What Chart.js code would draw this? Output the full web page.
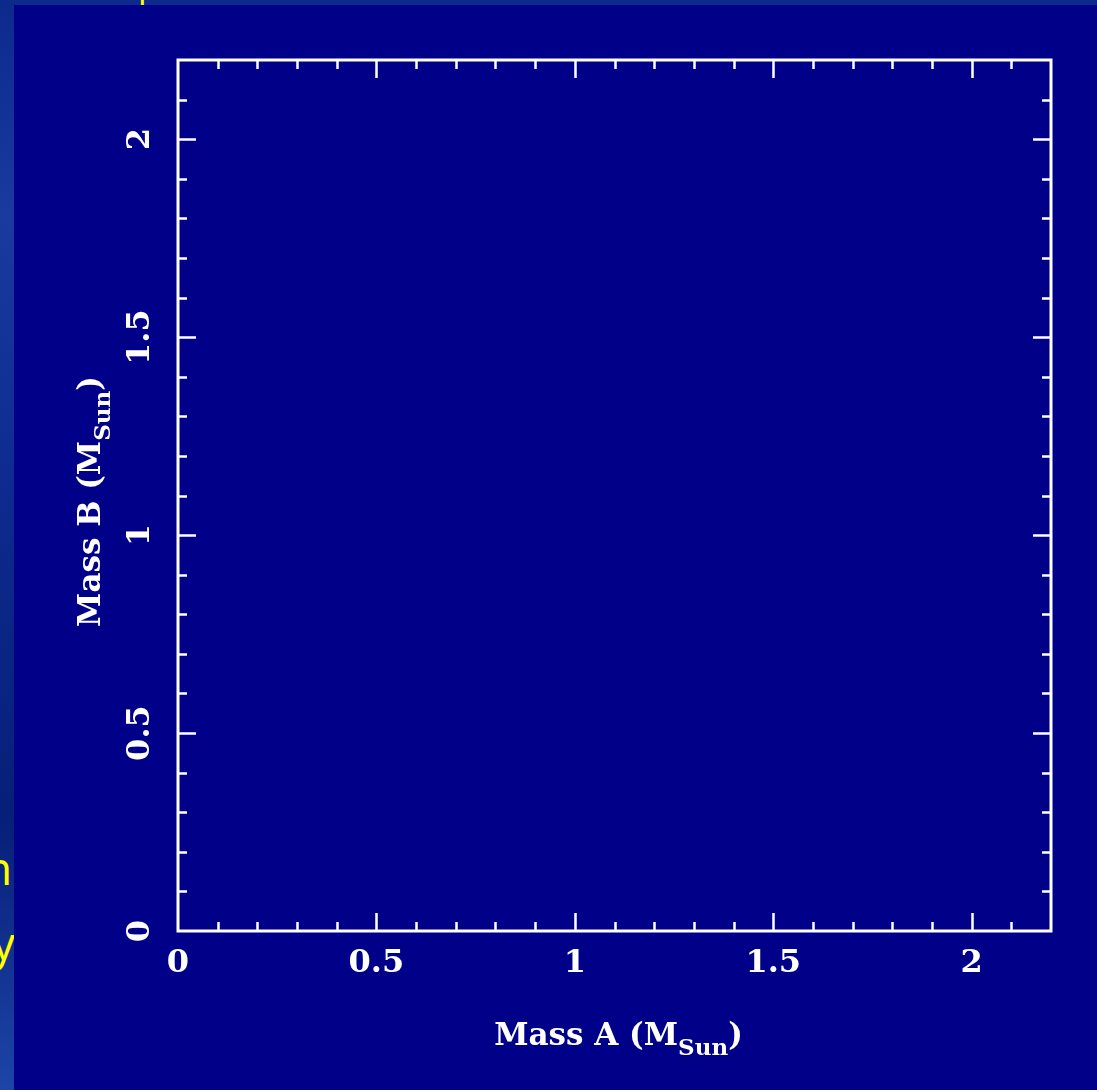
<!DOCTYPE html>
<html>
<head>
<meta charset="utf-8">
<script src="https://cdn.jsdelivr.net/npm/chart.js@4"></script>
<style>
  html, body { margin: 0; padding: 0; }
  body {
    width: 1097px; height: 1090px; overflow: hidden; position: relative;
    background: linear-gradient(180deg, #0c2a8c 0%, #1a3aa0 20%, #0d2b8e 45%, #061f78 75%, #1c45a6 100%);
  }
  .slide-text {
    position: absolute; color: #ffff00; font-family: 'Open Sans', 'Liberation Sans', sans-serif;
    font-size: 46px; line-height: 1; white-space: nowrap;
  }
  #panel {
    position: absolute; left: 14px; top: 5px; width: 1083px; height: 1085px;
    background: #000088;
  }
</style>
</head>
<body>
<div class="slide-text" style="left:-16px; top:844px;">n</div>
<div class="slide-text" style="left:-8px; top:919px;">y</div>
<div class="slide-text" style="left:138px; top:-33px; font-size:34px;">pesos</div>
<div id="panel"><canvas id="massChart" width="1083" height="1085"></canvas></div>
<script>
// no measured points: the panel is an empty mass-mass diagram
const massA = [];
const massB = [];

const axisMin = 0;
const axisMax = 2.2;
const minorStep = 0.1;
const majorTicks = [0, 0.5, 1, 1.5, 2];
const tickLabels = ['0', '0.5', '1', '1.5', '2'];

const xTitle = ['Mass A (M', 'Sun', ')'];
const yTitle = ['Mass B (M', 'Sun', ')'];

const points = massA.map((a, i) => ({ x: a, y: massB[i] }));

const isMajor = v => majorTicks.some(m => Math.abs(m - v) < 1e-6);

const FONT = '"DejaVu Serif", "Liberation Serif", serif';

// draws "Mass A (M" + subscript "Sun" + ")" centred on 0,0
function drawTitle(ctx, parts) {
  const big = 'bold 31px ' + FONT;
  const small = 'bold 23px ' + FONT;
  ctx.font = big;
  const w0 = ctx.measureText(parts[0]).width;
  const w2 = ctx.measureText(parts[2]).width;
  ctx.font = small;
  const w1 = ctx.measureText(parts[1]).width;
  let x = -(w0 + w1 + w2) / 2;
  ctx.textBaseline = 'alphabetic';
  ctx.textAlign = 'left';
  ctx.font = big;
  ctx.fillText(parts[0], x, 10);
  x += w0;
  ctx.font = small;
  ctx.fillText(parts[1], x, 20);
  x += w1;
  ctx.font = big;
  ctx.fillText(parts[2], x, 10);
}

const pgplotFrame = {
  id: 'pgplotFrame',
  afterDraw(chart) {
    const { ctx, chartArea: a, scales: { x, y } } = chart;
    ctx.save();
    ctx.strokeStyle = '#ffffff';
    ctx.fillStyle = '#ffffff';
    ctx.lineWidth = 3;
    ctx.lineCap = 'butt';
    ctx.strokeRect(a.left, a.top, a.width, a.height);

    ctx.beginPath();
    x.ticks.forEach(t => {
      if (t.value <= axisMin + 1e-6 || t.value >= axisMax - 1e-6) return;
      const px = Math.round(x.getPixelForValue(t.value)) + 0.5;
      const len = isMajor(t.value) ? 18 : 9;
      ctx.moveTo(px, a.bottom); ctx.lineTo(px, a.bottom - len);
      ctx.moveTo(px, a.top); ctx.lineTo(px, a.top + len);
    });
    y.ticks.forEach(t => {
      if (t.value <= axisMin + 1e-6 || t.value >= axisMax - 1e-6) return;
      const py = Math.round(y.getPixelForValue(t.value)) + 0.5;
      const len = isMajor(t.value) ? 18 : 9;
      ctx.moveTo(a.left, py); ctx.lineTo(a.left + len, py);
      ctx.moveTo(a.right, py); ctx.lineTo(a.right - len, py);
    });
    ctx.lineWidth = 2.5;
    ctx.stroke();

    // tick labels
    ctx.font = 'bold 32px ' + FONT;
    ctx.textAlign = 'center';
    ctx.textBaseline = 'middle';
    majorTicks.forEach((v, i) => {
      ctx.fillText(tickLabels[i], x.getPixelForValue(v), a.bottom + 33);
      ctx.save();
      ctx.translate(a.left - 37, y.getPixelForValue(v));
      ctx.rotate(-Math.PI / 2);
      ctx.fillText(tickLabels[i], 0, 0);
      ctx.restore();
    });

    // axis titles
    ctx.save();
    ctx.translate((a.left + a.right) / 2 + 4, a.bottom + 104);
    drawTitle(ctx, xTitle);
    ctx.restore();

    ctx.save();
    ctx.translate(a.left - 88, (a.top + a.bottom) / 2 + 6);
    ctx.rotate(-Math.PI / 2);
    drawTitle(ctx, yTitle);
    ctx.restore();

    ctx.restore();
  }
};

new Chart(document.getElementById('massChart'), {
  type: 'scatter',
  data: {
    datasets: [{
      data: points,
      pointRadius: 3,
      backgroundColor: '#ffffff',
      borderColor: '#ffffff'
    }]
  },
  options: {
    responsive: false,
    animation: false,
    layout: { padding: { left: 164, top: 55, right: 46, bottom: 159 } },
    plugins: { legend: { display: false }, tooltip: { enabled: false } },
    scales: {
      x: {
        type: 'linear', min: axisMin, max: axisMax,
        ticks: { stepSize: minorStep, display: false },
        grid: { display: false }, border: { display: false },
        afterFit(scale) { scale.height = 0; }
      },
      y: {
        type: 'linear', min: axisMin, max: axisMax,
        ticks: { stepSize: minorStep, display: false },
        grid: { display: false }, border: { display: false },
        afterFit(scale) { scale.width = 0; }
      }
    }
  },
  plugins: [pgplotFrame]
});
</script>
</body>
</html>
